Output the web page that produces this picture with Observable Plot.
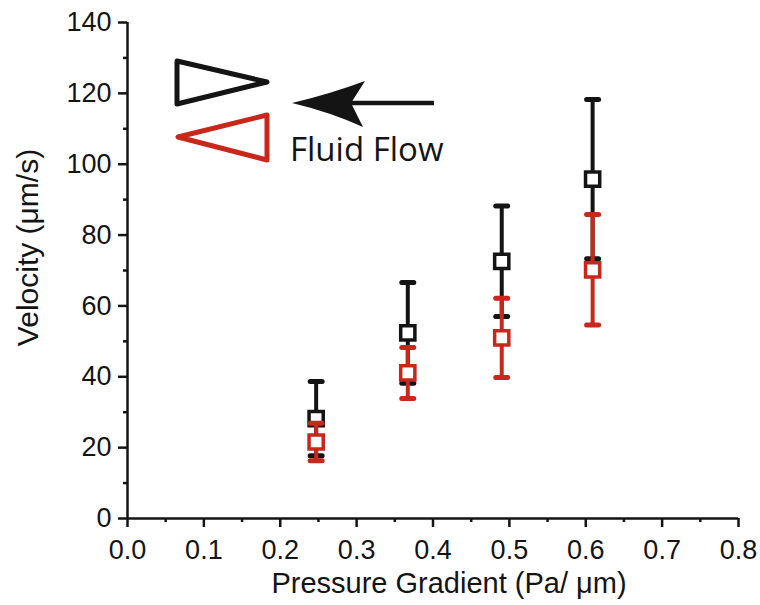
<!DOCTYPE html>
<html>
<head>
<meta charset="utf-8">
<script src="https://cdn.jsdelivr.net/npm/d3@7"></script>
<script src="https://cdn.jsdelivr.net/npm/@observablehq/plot@0.6"></script>
<style>
  html, body { margin: 0; padding: 0; background: white; }
  #wrap { position: relative; width: 760px; height: 605px; }
  #legend { position: absolute; left: 0; top: 0; pointer-events: none; }
</style>
</head>
<body>
<div id="wrap"></div>
<script>
// ---- data ----
const pressure      = [0.247, 0.367, 0.490, 0.609];
const velocityBlack = [28.2, 52.4, 72.6, 95.8];
const errorBlack    = [10.5, 14.2, 15.6, 22.5];
const velocityRed   = [21.6, 41.1, 51.0, 70.2];
const errorRed      = [5.3, 7.2, 11.2, 15.6];
const xTicks = [0, 0.1, 0.2, 0.3, 0.4, 0.5, 0.6, 0.7, 0.8];
const xMinorTicks = [0.05, 0.15, 0.25, 0.35, 0.45, 0.55, 0.65, 0.75];
const yTicks = [0, 20, 40, 60, 80, 100, 120, 140];
const yMinorTicks = [10, 30, 50, 70, 90, 110, 130];
const xLabel = "Pressure Gradient (Pa/ μm)";
const yLabel = "Velocity (μm/s)";
const legendText = "Fluid Flow";

const BLACK = "#141414";
const RED = "#c9261c";

const rowsBlack = pressure.map((x, i) => ({x, v: velocityBlack[i], lo: velocityBlack[i] - errorBlack[i], hi: velocityBlack[i] + errorBlack[i]}));
const rowsRed = pressure.map((x, i) => ({x, v: velocityRed[i], lo: velocityRed[i] - errorRed[i], hi: velocityRed[i] + errorRed[i]}));

// horizontal cap symbol (half-width = r)
const capSymbol = {
  draw(ctx, size) {
    const w = Math.sqrt(size / Math.PI);
    ctx.moveTo(-w, 0);
    ctx.lineTo(w, 0);
  }
};

function series(rows, color) {
  return [
    Plot.ruleX(rows, {x: "x", y1: "lo", y2: "hi", stroke: color, strokeWidth: 4}),
    Plot.dot(rows, {x: "x", y: "hi", symbol: capSymbol, r: 6, stroke: color, fill: "none", strokeWidth: 5, strokeLinecap: "round"}),
    Plot.dot(rows, {x: "x", y: "lo", symbol: capSymbol, r: 6, stroke: color, fill: "none", strokeWidth: 5, strokeLinecap: "round"}),
    Plot.dot(rows, {x: "x", y: "v", symbol: "square", r: 8, stroke: color, fill: "white", strokeWidth: 3.5})
  ];
}

const chart = Plot.plot({
  width: 760,
  height: 605,
  marginLeft: 127,
  marginRight: 22,
  marginTop: 22,
  marginBottom: 87,
  style: {fontFamily: "'Liberation Sans', Arial, Helvetica, sans-serif", fontSize: "27px", color: BLACK, background: "white"},
  x: {domain: [0, 0.8]},
  y: {domain: [0, 140]},
  marks: [
    Plot.axisX({ticks: xTicks, tickSize: 9, tickPadding: 12, tickFormat: d3.format(".1f"), label: null, fontSize: 27, strokeWidth: 2.5}),
    Plot.axisX({ticks: xMinorTicks, tickSize: 4, tickFormat: () => "", label: null, strokeWidth: 2.5}),
    Plot.axisY({ticks: yTicks, tickSize: 9, tickPadding: 7, label: null, fontSize: 27, strokeWidth: 2.5}),
    Plot.axisY({ticks: yMinorTicks, tickSize: 4, tickFormat: () => "", label: null, strokeWidth: 2.5}),
    Plot.ruleY([0], {stroke: BLACK, strokeWidth: 2.5}),
    Plot.ruleX([0], {stroke: BLACK, strokeWidth: 2.5}),
    Plot.text([xLabel], {frameAnchor: "bottom", textAnchor: "middle", lineAnchor: "middle", dy: 65, dx: 16, fontSize: 29, fill: BLACK}),
    Plot.text([yLabel], {frameAnchor: "left", textAnchor: "middle", lineAnchor: "middle", rotate: -90, dx: -99, dy: -23, fontSize: 30, fill: BLACK}),
    ...series(rowsBlack, BLACK),
    ...series(rowsRed, RED)
  ]
});

const wrap = document.getElementById("wrap");
wrap.appendChild(chart);

// ---- legend annotation (flow-direction sketch) ----
const ns = "http://www.w3.org/2000/svg";
const leg = document.createElementNS(ns, "svg");
leg.setAttribute("id", "legend");
leg.setAttribute("width", 760);
leg.setAttribute("height", 605);
leg.innerHTML = `
  <polygon points="177,61 177,104 267,82" fill="none" stroke="${BLACK}" stroke-width="5" stroke-linejoin="round"/>
  <polygon points="267,115 267,160 178,137" fill="none" stroke="${RED}" stroke-width="5" stroke-linejoin="round"/>
  <line x1="434" y1="103" x2="345" y2="103" stroke="${BLACK}" stroke-width="4.5"/>
  <path d="M292,103 Q330,94 365,81 L351,103 L363,127 Q330,112 292,103 Z" fill="${BLACK}"/>
  <text x="290" y="161" font-family="'Open Sans', 'Noto Sans', sans-serif" font-size="33" fill="${BLACK}">${legendText}</text>
`;
wrap.appendChild(leg);
</script>
</body>
</html>
